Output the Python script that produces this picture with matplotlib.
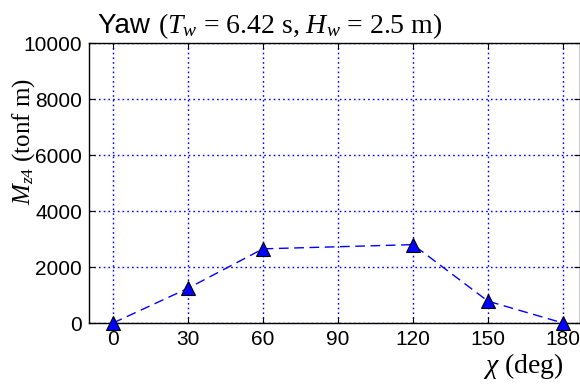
import matplotlib
matplotlib.use("Agg")
import matplotlib.pyplot as plt

# data
chi = [0, 30, 60, 120, 150, 180]
mz4 = [0, 1240, 2650, 2800, 780, 0]
x_ticks = [0, 30, 60, 90, 120, 150, 180]
y_ticks = [0, 2000, 4000, 6000, 8000, 10000]

plt.rcParams["font.family"] = ["Liberation Sans", "DejaVu Sans"]
plt.rcParams["mathtext.fontset"] = "custom"
plt.rcParams["mathtext.rm"] = "Liberation Serif"
plt.rcParams["mathtext.it"] = "Liberation Serif:italic"
plt.rcParams["mathtext.sf"] = "Liberation Serif"

fig = plt.figure(figsize=(5.8, 3.85), dpi=100)
ax = fig.add_axes([0.1534, 0.161, 0.8466, 0.727])

ax.plot(chi, mz4, linestyle=(0, (7, 4)), color="blue", linewidth=1.0,
        marker="^", markersize=10, markerfacecolor="blue",
        markeredgecolor="black", markeredgewidth=0.8, clip_on=False, zorder=3)

ax.set_xlim(-9.6, 186.8)
ax.set_ylim(0, 10000)
ax.set_xticks(x_ticks)
ax.set_yticks(y_ticks)
ax.grid(True, color="blue", linestyle=(0, (1.2, 2.2)), linewidth=1.0)
ax.tick_params(direction="in", length=4, width=0.8, top=True, right=True,
               labelsize=15, pad=5)
for s in ax.spines.values():
    s.set_linewidth(1.0)

ax.set_ylabel(r"$M_{z4}$ (tonf m)", fontsize=18, family="Liberation Serif")
ax.yaxis.set_label_coords(-0.106, 0.65)
fig.text(0.833, 0.031, r"$\chi$ (deg)", fontsize=20, family="Liberation Serif",
         ha="left", va="baseline")

# title: "Yaw" in sans, the rest in serif
t1 = fig.text(0.169, 0.914, "Yaw ", fontsize=20, family="Liberation Sans",
              ha="left", va="baseline")
fig.canvas.draw()
bb = t1.get_window_extent()
x2 = bb.x1 / fig.bbox.width
fig.text(x2, 0.914, r"($T_w$ = 6.42 s, $H_w$ = 2.5 m)", fontsize=20,
         family="Liberation Serif", ha="left", va="baseline")

fig.savefig("out.png", dpi=100)
